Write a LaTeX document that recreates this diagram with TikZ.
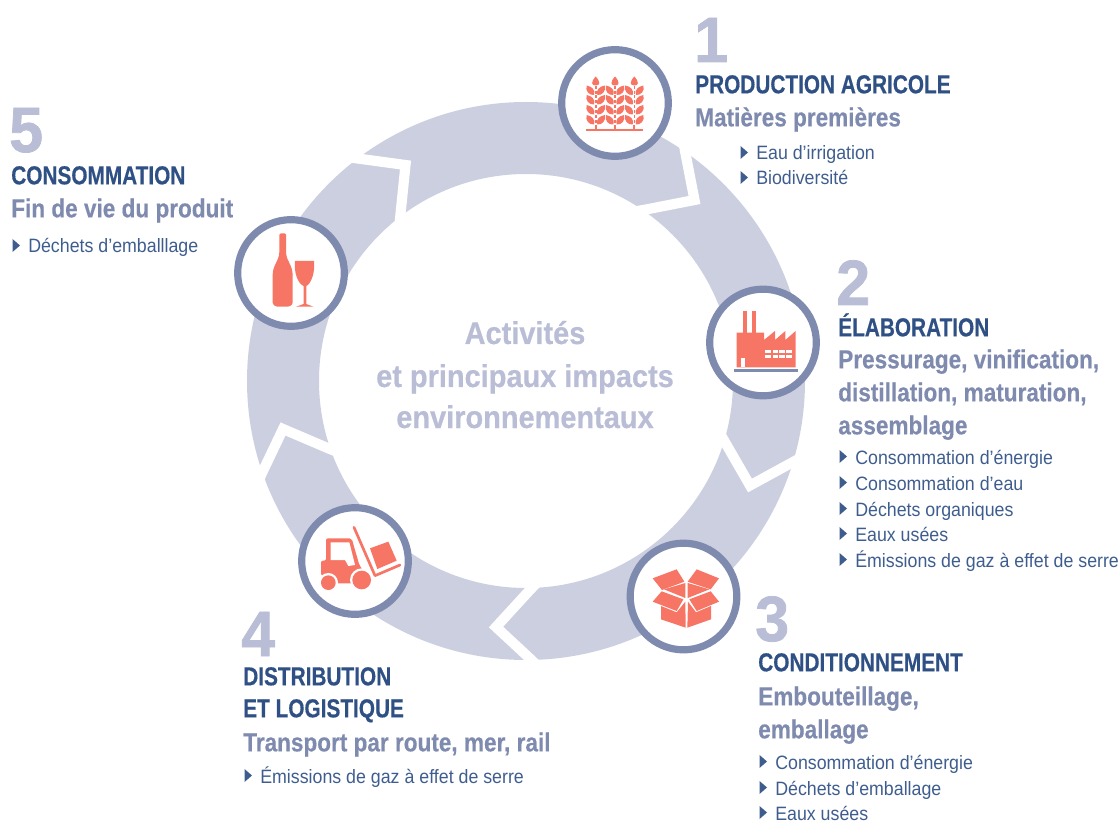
\documentclass[tikz,border=0pt]{standalone}
\usepackage{fontspec}
\setmainfont[FakeStretch=0.92]{Liberation Sans}
\newfontfamily\titlefam[FakeStretch=0.80,FakeBold=0.4]{Liberation Sans}
\newfontfamily\subfam[FakeStretch=0.868,FakeBold=0.4]{Liberation Sans}
\newfontfamily\numfam[FakeStretch=0.95,FakeBold=1.2]{Liberation Sans}
\newfontfamily\centerfam[FakeStretch=0.92,FakeBold=0.5]{Liberation Sans}
\definecolor{ringc}{HTML}{CCCFE0}
\definecolor{circc}{HTML}{7F8AAF}
\definecolor{coral}{HTML}{F67564}
\definecolor{numc}{HTML}{B9BDD5}
\definecolor{titlec}{HTML}{2F5084}
\definecolor{bodyc}{HTML}{3E5D8E}
\tikzset{
 numtxt/.style={anchor=base west,inner sep=0pt,font=\numfam\fontsize{48}{50}\selectfont\bfseries,text=numc},
 titletxt/.style={anchor=base west,inner sep=0pt,yshift=0.5pt,font=\titlefam\fontsize{19.5}{20}\selectfont\bfseries,text=titlec},
 subtxt/.style={anchor=base west,inner sep=0pt,yshift=0.5pt,font=\subfam\fontsize{19.5}{20}\selectfont\bfseries,text=circc},
 bodytxt/.style={anchor=base west,inner sep=0pt,font=\fontsize{14.5}{16}\selectfont,text=bodyc},
 centertxt/.style={anchor=base,inner sep=0pt,font=\centerfam\fontsize{23.6}{24}\selectfont\bfseries,text=numc},
 badge/.style={circle,draw=circc,fill=white,line width=5.4pt,minimum size=80pt,inner sep=0pt},
 cut/.style={draw=white,line width=7.6pt,miter limit=10},
}
\newcommand{\bul}[4]{% name, x, y, text
 \fill[bodyc] (#2-15.5,#3-14) -- (#2-8,#3-7.5) -- (#2-15.5,#3-1) -- cycle;
 \node[bodytxt] (#1) at (#2,#3) {#4};}
\newcommand{\leafR}[2]{\fill[coral] (#1,#2) .. controls (#1-1.5,#2-5) and (#1+2,#2-8.5) .. (#1+7.5,#2-9.5) .. controls (#1+9,#2-4) and (#1+5,#2+.5) .. (#1,#2) -- cycle;}
\newcommand{\leafL}[2]{\fill[coral] (#1,#2) .. controls (#1+1.5,#2-5) and (#1-2,#2-8.5) .. (#1-7.5,#2-9.5) .. controls (#1-9,#2-4) and (#1-5,#2+.5) .. (#1,#2) -- cycle;}
\newcommand{\stalk}[1]{%
 \fill[coral] (#1,76.5) .. controls (#1+5,82) and (#1+4.5,85.5) .. (#1,85.5) .. controls (#1-4.5,85.5) and (#1-5,82) .. (#1,76.5) -- cycle;
 \foreach \yy in {95,104.5,114.5,124.5}{\leafR{#1+1.6}{\yy}\leafL{#1-1.6}{\yy}
   \fill[coral] (#1-.8,\yy-9) rectangle (#1+.8,\yy-6);\fill[coral] (#1-.8,\yy-4) rectangle (#1+.8,\yy-1);}
 \fill[coral] (#1-.9,125) rectangle (#1+.9,129);}
\begin{document}
\begin{tikzpicture}[x=0.75pt,y=-0.75pt]
\useasboundingbox (0,0) rectangle (1120,823);
% ring
\fill[ringc,even odd rule] (526,381) circle[radius=279] (526,381) circle[radius=207];
% chevrons
\draw[cut] (680,122) -- (685,151) -- (694.5,200) -- (646,209.5) -- (620,214);
\draw[cut] (815,450) -- (793,462) -- (750,485.5) -- (725.5,443) -- (715,425);
\draw[cut] (550,569) -- (529,591) -- (496,627) -- (531.5,660) -- (552,680);
\draw[cut] (350,457) -- (327.5,448) -- (283,429) -- (262,473) -- (252,495);
\draw[cut] (335,155) -- (357.5,158.5) -- (405.5,165) -- (400.5,214) -- (398,240);
% badges
\node[badge] (b1) at (615,103) {};
\node[badge] (b2) at (763,342.5) {};
\node[badge] (b3) at (683.5,596.5) {};
\node[badge] (b4) at (355,561) {};
\node[badge] (b5) at (291,273) {};
% wheat icon
\stalk{595.7}\stalk{615}\stalk{634.3}
\fill[coral] (586,129) rectangle (643,131);
% factory icon (px = x/3+680, y/3+270)
\begin{scope}[shift={(680,270)},x=0.25pt,y=-0.25pt]
 \fill[coral] (190,123) rectangle (201,190);
 \fill[coral] (217,123) rectangle (228,190);
 \fill[coral] (170,188) -- (252,188) -- (252,210) -- (285,183) -- (285,210) -- (316,183) -- (316,210) -- (347,183) -- (347,292) -- (170,292) -- cycle;
 \fill[white] (183,265) rectangle (194,292);
 \foreach \xa/\xb in {256/273,278/294,298/315,319/336}{
  \fill[white] (\xa,241) rectangle (\xb,250);
  \fill[white] (\xa,255) rectangle (\xb,265);}
 \fill[circc] (162,297) rectangle (354,305);
\end{scope}
% box icon
\begin{scope}[shift={(480,530)},x=0.25pt,y=-0.25pt]
 \fill[coral] (518,145) -- (590,118) -- (613,155) -- (546,180) -- cycle;
 \fill[coral] (650,118) -- (717,145) -- (692,178) -- (623,155) -- cycle;
 \fill[coral] (552,178) -- (616,159) -- (616,204) -- cycle;
 \fill[coral] (623,159) -- (688,178) -- (623,204) -- cycle;
 \fill[coral] (545,184) -- (610,208) -- (590,243) -- (518,215) -- cycle;
 \fill[coral] (628,208) -- (692,184) -- (717,215) -- (650,243) -- cycle;
 \fill[coral] (543,228) -- (590,247) -- (616,215) -- (617,293) -- (543,268) -- cycle;
 \fill[coral] (624,215) -- (648,247) -- (693,228) -- (693,268) -- (622,293) -- cycle;
\end{scope}
% forklift icon
\begin{scope}[shift={(240,410)},x=0.25pt,y=-0.25pt]
 \fill[coral,rounded corners=1.5pt] (243,452) -- (258,452) -- (258,385) -- (335,385) -- (358,465) -- (380,497) -- (340,520) -- (285,520) -- (243,497) -- cycle;
 \fill[white] (272,397) -- (328,397) -- (345,465) -- (325,468) -- (315,450) -- (272,450) -- cycle;
 \fill[white] (265,518) circle[radius=29];
 \fill[white] (365,510) circle[radius=35];
 \fill[coral] (265,518) circle[radius=22];
 \fill[coral] (365,510) circle[radius=28];
 \draw[coral,line width=2pt,line cap=round,line join=round] (342,352) -- (405,497) -- (480,465);
 \fill[coral] (390,415) -- (445,395) -- (470,452) -- (412,477) -- cycle;
\end{scope}
% bottle icon
\begin{scope}[shift={(220,130)},x=0.25pt,y=-0.25pt]
 \fill[coral,rounded corners=1pt] (178,310) -- (198,310) -- (198,365) .. controls (200,395) and (218,405) .. (218,440) -- (218,522) -- (208,530) -- (168,530) -- (158,522) -- (158,440) .. controls (158,405) and (176,395) .. (178,365) -- cycle;
 \fill[coral] (225,393) -- (282,393) .. controls (286,430) and (272,462) .. (259,468) -- (259,522) -- (280,530) -- (228,530) -- (251,522) -- (251,468) .. controls (235,462) and (221,430) .. (225,393) -- cycle;
\end{scope}
% center text
\node[centertxt] (c1) at (525,344) {Activités};
\node[centertxt] (c2) at (525,387) {et principaux impacts};
\node[centertxt] (c3) at (525,428) {environnementaux};
% step 1
\node[numtxt] (n1) at (694,62) {1};
\node[titletxt] (t1) at (695,94) {PRODUCTION AGRICOLE};
\node[subtxt] (s1) at (695,127) {Matières premières};
\bul{i11}{756}{160}{Eau d’irrigation}
\bul{i12}{756}{185}{Biodiversité}
% step 2
\node[numtxt] (n2) at (836,305) {2};
\node[titletxt] (t2) at (838,337) {ÉLABORATION};
\node[subtxt] (s21) at (838,369) {Pressurage, vinification,};
\node[subtxt] (s22) at (838,402) {distillation, maturation,};
\node[subtxt] (s23) at (838,435) {assemblage};
\bul{i21}{855}{464}{Consommation d’énergie}
\bul{i22}{855}{490}{Consommation d’eau}
\bul{i23}{855}{516}{Déchets organiques}
\bul{i24}{855}{541}{Eaux usées}
\bul{i25}{855}{567}{Émissions de gaz à effet de serre}
% step 3
\node[numtxt] (n3) at (755,641) {3};
\node[titletxt] (t3) at (758,672) {CONDITIONNEMENT};
\node[subtxt] (s31) at (758,706) {Embouteillage,};
\node[subtxt] (s32) at (758,739) {emballage};
\bul{i31}{775}{769}{Consommation d’énergie}
\bul{i32}{775}{795}{Déchets d’emballage}
\bul{i33}{775}{820}{Eaux usées}
% step 4
\node[numtxt] (n4) at (241,656) {4};
\node[titletxt] (t41) at (243,686) {DISTRIBUTION};
\node[titletxt] (t42) at (243,718) {ET LOGISTIQUE};
\node[subtxt] (s4) at (243,752) {Transport par route, mer, rail};
\bul{i41}{260}{783}{Émissions de gaz à effet de serre}
% step 5
\node[numtxt] (n5) at (9,152) {5};
\node[titletxt] (t5) at (11,185) {CONSOMMATION};
\node[subtxt] (s5) at (11,218) {Fin de vie du produit};
\bul{i51}{28}{253}{Déchets d’emballlage}
\end{tikzpicture}
\end{document}
